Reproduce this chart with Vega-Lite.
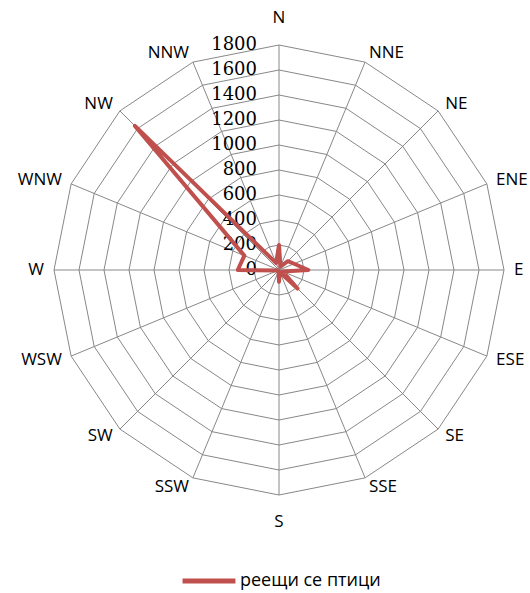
{
  "$schema": "https://vega.github.io/schema/vega-lite/v6.json",
  "width": 530,
  "height": 593,
  "autosize": "none",
  "padding": 0,
  "background": "white",
  "config": {"view": {"stroke": null}},
  "datasets": {
    "birds": [
      {"dir": "N", "k": 0, "value": 200},
      {"dir": "NNE", "k": 1, "value": 30},
      {"dir": "NE", "k": 2, "value": 100},
      {"dir": "ENE", "k": 3, "value": 130},
      {"dir": "E", "k": 4, "value": 235},
      {"dir": "ESE", "k": 5, "value": 30},
      {"dir": "SE", "k": 6, "value": 210},
      {"dir": "SSE", "k": 7, "value": 20},
      {"dir": "S", "k": 8, "value": 95},
      {"dir": "SSW", "k": 9, "value": 10},
      {"dir": "SW", "k": 10, "value": 10},
      {"dir": "WSW", "k": 11, "value": 10},
      {"dir": "W", "k": 12, "value": 330},
      {"dir": "WNW", "k": 13, "value": 300},
      {"dir": "NW", "k": 14, "value": 1630},
      {"dir": "NNW", "k": 15, "value": 60}
    ],
    "rings": [
      {"level": 200, "ks": [0,1,2,3,4,5,6,7,8,9,10,11,12,13,14,15]},
      {"level": 400, "ks": [0,1,2,3,4,5,6,7,8,9,10,11,12,13,14,15]},
      {"level": 600, "ks": [0,1,2,3,4,5,6,7,8,9,10,11,12,13,14,15]},
      {"level": 800, "ks": [0,1,2,3,4,5,6,7,8,9,10,11,12,13,14,15]},
      {"level": 1000, "ks": [0,1,2,3,4,5,6,7,8,9,10,11,12,13,14,15]},
      {"level": 1200, "ks": [0,1,2,3,4,5,6,7,8,9,10,11,12,13,14,15]},
      {"level": 1400, "ks": [0,1,2,3,4,5,6,7,8,9,10,11,12,13,14,15]},
      {"level": 1600, "ks": [0,1,2,3,4,5,6,7,8,9,10,11,12,13,14,15]},
      {"level": 1800, "ks": [0,1,2,3,4,5,6,7,8,9,10,11,12,13,14,15]}
    ],
    "ticks": [
      {"level": 0}, {"level": 200}, {"level": 400}, {"level": 600}, {"level": 800},
      {"level": 1000}, {"level": 1200}, {"level": 1400}, {"level": 1600}, {"level": 1800}
    ]
  },
  "layer": [
    {
      "data": {"name": "rings"},
      "transform": [
        {"flatten": ["ks"], "as": ["k"]},
        {"calculate": "datum.k * PI / 8", "as": "a"},
        {"calculate": "datum.level * sin(datum.a)", "as": "gx"},
        {"calculate": "datum.level * cos(datum.a)", "as": "gy"}
      ],
      "mark": {"type": "line", "interpolate": "linear-closed", "color": "#888888", "strokeWidth": 1},
      "encoding": {
        "x": {"field": "gx", "type": "quantitative", "scale": {"domain": [-2232, 2008], "nice": false, "zero": false}, "axis": null},
        "y": {"field": "gy", "type": "quantitative", "scale": {"domain": [-2584, 2160], "nice": false, "zero": false}, "axis": null},
        "detail": {"field": "level"},
        "order": {"field": "k", "type": "quantitative"}
      }
    },
    {
      "data": {"name": "birds"},
      "transform": [
        {"calculate": "datum.k * PI / 8", "as": "a"},
        {"calculate": "1800 * sin(datum.a)", "as": "sx"},
        {"calculate": "1800 * cos(datum.a)", "as": "sy"}
      ],
      "mark": {"type": "rule", "color": "#888888", "strokeWidth": 1},
      "encoding": {
        "x": {"field": "sx", "type": "quantitative", "scale": {"domain": [-2232, 2008], "nice": false, "zero": false}, "axis": null},
        "y": {"field": "sy", "type": "quantitative", "scale": {"domain": [-2584, 2160], "nice": false, "zero": false}, "axis": null},
        "x2": {"datum": 0},
        "y2": {"datum": 0}
      }
    },
    {
      "data": {"name": "ticks"},
      "mark": {"type": "text", "align": "right", "baseline": "middle", "dx": -22, "font": "DejaVu Serif", "fontSize": 18, "color": "#000000"},
      "encoding": {
        "x": {"datum": 0, "type": "quantitative", "scale": {"domain": [-2232, 2008], "nice": false, "zero": false}, "axis": null},
        "y": {"field": "level", "type": "quantitative", "scale": {"domain": [-2584, 2160], "nice": false, "zero": false}, "axis": null},
        "text": {"field": "level", "type": "quantitative", "format": "d"}
      }
    },
    {
      "data": {"name": "birds"},
      "transform": [
        {"filter": "datum.k >= 1 && datum.k <= 7"},
        {"calculate": "datum.k * PI / 8", "as": "a"},
        {"calculate": "1880 * sin(datum.a)", "as": "lx"},
        {"calculate": "1880 * cos(datum.a)", "as": "ly"}
      ],
      "mark": {"type": "text", "align": "left", "baseline": "middle", "font": "Open Sans", "fontSize": 17, "color": "#000000"},
      "encoding": {
        "x": {"field": "lx", "type": "quantitative", "scale": {"domain": [-2232, 2008], "nice": false, "zero": false}, "axis": null},
        "y": {"field": "ly", "type": "quantitative", "scale": {"domain": [-2584, 2160], "nice": false, "zero": false}, "axis": null},
        "text": {"field": "dir"}
      }
    },
    {
      "data": {"name": "birds"},
      "transform": [
        {"filter": "datum.k >= 9"},
        {"calculate": "datum.k * PI / 8", "as": "a"},
        {"calculate": "1880 * sin(datum.a)", "as": "lx"},
        {"calculate": "1880 * cos(datum.a)", "as": "ly"}
      ],
      "mark": {"type": "text", "align": "right", "baseline": "middle", "font": "Open Sans", "fontSize": 17, "color": "#000000"},
      "encoding": {
        "x": {"field": "lx", "type": "quantitative", "scale": {"domain": [-2232, 2008], "nice": false, "zero": false}, "axis": null},
        "y": {"field": "ly", "type": "quantitative", "scale": {"domain": [-2584, 2160], "nice": false, "zero": false}, "axis": null},
        "text": {"field": "dir"}
      }
    },
    {
      "data": {"name": "birds"},
      "transform": [
        {"filter": "datum.k == 0 || datum.k == 8"},
        {"calculate": "datum.k * PI / 8", "as": "a"},
        {"calculate": "2016 * sin(datum.a)", "as": "lx"},
        {"calculate": "2016 * cos(datum.a)", "as": "ly"}
      ],
      "mark": {"type": "text", "align": "center", "baseline": "middle", "font": "Open Sans", "fontSize": 17, "color": "#000000"},
      "encoding": {
        "x": {"field": "lx", "type": "quantitative", "scale": {"domain": [-2232, 2008], "nice": false, "zero": false}, "axis": null},
        "y": {"field": "ly", "type": "quantitative", "scale": {"domain": [-2584, 2160], "nice": false, "zero": false}, "axis": null},
        "text": {"field": "dir"}
      }
    },
    {
      "data": {"name": "birds"},
      "transform": [
        {"calculate": "datum.k * PI / 8", "as": "a"},
        {"calculate": "datum.value * sin(datum.a)", "as": "px"},
        {"calculate": "datum.value * cos(datum.a)", "as": "py"}
      ],
      "mark": {"type": "line", "interpolate": "linear-closed", "strokeWidth": 4, "strokeJoin": "round"},
      "encoding": {
        "x": {"field": "px", "type": "quantitative", "scale": {"domain": [-2232, 2008], "nice": false, "zero": false}, "axis": null},
        "y": {"field": "py", "type": "quantitative", "scale": {"domain": [-2584, 2160], "nice": false, "zero": false}, "axis": null},
        "order": {"field": "k", "type": "quantitative"},
        "color": {
          "datum": "реещи се птици",
          "type": "nominal",
          "scale": {"range": ["#C0504D"]},
          "legend": {
            "title": null,
            "orient": "none",
            "legendX": 180,
            "legendY": 552,
            "symbolType": "stroke",
            "symbolSize": 2800,
            "symbolStrokeWidth": 5,
            "labelFont": "Open Sans",
            "labelFontSize": 18,
            "labelColor": "#000000",
            "labelOffset": 2,
            "padding": 0
          }
        }
      }
    }
  ]
}
